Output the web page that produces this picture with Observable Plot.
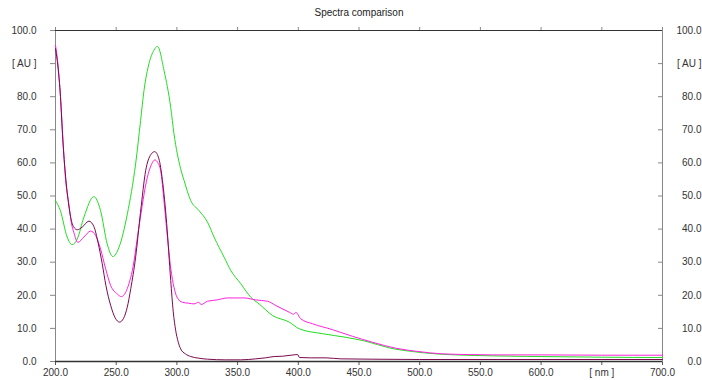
<!DOCTYPE html>
<html>
<head>
<meta charset="utf-8">
<script src="https://cdn.jsdelivr.net/npm/d3@7"></script>
<script src="https://cdn.jsdelivr.net/npm/@observablehq/plot@0.6"></script>
<style>
  html, body { margin: 0; padding: 0; background: #fff; }
</style>
</head>
<body>
<div id="chart"></div>
<script>
const title = "Spectra comparison";
const xDomain = [200, 700];
const yDomain = [0, 100];
const xTicks = [200, 250, 300, 350, 400, 450, 500, 550, 600, 650, 700];
const yTicks = [0, 10, 20, 30, 40, 50, 60, 70, 80, 90, 100];
const xUnitTick = 650, xUnitLabel = "[ nm ]";
const yUnitTick = 90, yUnitLabel = "[ AU ]";

const greenNm = [200,204,209.6,213.7,217.9,223.4,231.6,237.1,242.6,247.3,252.3,259.2,266,270.1,272.9,277,281,284,289.4,294.9,297.6,303.1,305.9,311.4,318.2,325.2,330.6,338.9,344.4,352.6,360.9,367.7,378.8,392.5,400.7,420,439.3,455.8,475,494.3,513.5,530,560,600,650,700];
const greenAU = [48.6,45.6,37.6,35.3,37,43.6,49.8,45.6,35.5,31.7,34.5,44.6,59.7,72.8,81.9,90,94,95.2,87.9,76.8,68.8,58.2,54.7,48.6,45.6,42.1,37.6,31.5,27.5,23.5,19.4,17.4,13.9,11.9,9.9,8.4,7.3,6.1,4.1,3.0,2.3,2.0,1.7,1.5,1.3,1.2];

const magentaNm = [200,202,204.1,206,208.3,211,213,215.1,218.4,223.4,228.9,233,237.1,241.3,245.4,250.9,254.2,257.8,260.5,263.3,268.7,275.7,279,281.9,284,286.6,289.5,292.2,295,297.6,300,304.5,310,314.1,318,320,325.2,333,341.7,355.4,365,374.7,381.5,392.5,396,398,402,411.8,428.3,444.8,461.3,480.5,497,519,540,560,600,650,700];
const magentaAU = [95.5,90,80,68,55,47.6,42,39,36,37.6,39.4,38.1,34,28,23,20.4,19.6,20.9,23.5,27.5,40.6,55.7,59.5,60.9,60.2,57.7,48,37.6,28,22.4,19.5,17.9,17.6,17.4,17.9,17.2,18.2,18.6,19.2,19.2,18.6,18.2,16.9,14.9,14.3,14.8,12.9,11.4,9.6,7.6,5.8,4.0,3.1,2.3,2.1,2.0,2.0,1.9,1.9];

const purpleNm = [200,202,204.1,206,208.3,211,213.8,215.1,217.9,222,227.5,231.6,235,238.5,241.5,245.4,249,252.8,256,259.1,262,266,270,274.3,278.5,281.7,285.2,288,291.6,294.9,297,299,301,303.1,307,311.4,318,325.2,340,352.6,365,373,380.1,387,394,399.4,401,410,422.8,435,460,500,600,700];
const purpleAU = [94.5,89,80,67,56,47,41.6,40.6,39.8,40.6,42.4,40.8,36,29.5,23,17,13.3,11.9,13,16.4,22,31.5,45,57.7,62.5,63.4,61.2,55,41.6,24.5,15,9.4,6,3.8,2.3,1.5,1.0,0.7,0.5,0.5,0.8,1.1,1.5,1.6,1.9,2.1,1.2,1.1,1.1,0.8,0.7,0.6,0.6,0.6];

const toRows = (nm, au) => nm.map((x, i) => ({nm: x, au: au[i]}));
const green = toRows(greenNm, greenAU);
const magenta = toRows(magentaNm, magentaAU);
const purple = toRows(purpleNm, purpleAU);

const fmtX = d => d === xUnitTick ? xUnitLabel : d.toFixed(1);
const fmtY = d => d === yUnitTick ? yUnitLabel : d.toFixed(1);

const chart = Plot.plot({
  width: 702,
  height: 380,
  marginLeft: 55,
  marginRight: 40,
  marginTop: 30,
  marginBottom: 19,
  style: {fontFamily: "'Liberation Sans', Arial, sans-serif", fontSize: "10px", background: "#fff", color: "#333", overflow: "visible"},
  x: {domain: xDomain, label: null},
  y: {domain: yDomain, label: null},
  marks: [
    Plot.axisX(xTicks, {anchor: "bottom", label: null, tickSize: 4, tickPadding: 3, tickFormat: fmtX, stroke: "#555", fill: "#333", fontSize: 10}),
    Plot.axisX(xTicks, {anchor: "top", label: null, tickSize: 4, tickFormat: () => "", stroke: "#888"}),
    Plot.axisY(yTicks, {anchor: "left", label: null, tickSize: 5, tickPadding: 14, tickFormat: fmtY, stroke: "#888", fill: "#333", fontSize: 10}),
    Plot.axisY(yTicks, {anchor: "right", label: null, tickSize: 0, tickPadding: 39, textAnchor: "end", tickFormat: fmtY, fill: "#333", fontSize: 10}),
    Plot.axisY(yTicks, {anchor: "right", label: null, tickSize: 5, dx: -5, tickFormat: () => "", stroke: "#888"}),
    Plot.ruleX(xDomain, {stroke: "#888", strokeWidth: 1}),
    Plot.ruleY([yDomain[1]], {stroke: "#333", strokeWidth: 1}),
    Plot.ruleY([yDomain[0]], {stroke: "#333", strokeWidth: 1.3}),
    Plot.line(green, {x: "nm", y: "au", stroke: "#22dd22", strokeWidth: 1, curve: "monotone-x"}),
    Plot.line(magenta, {x: "nm", y: "au", stroke: "#ff22dd", strokeWidth: 1, curve: "monotone-x"}),
    Plot.line(purple, {x: "nm", y: "au", stroke: "#7a0a4e", strokeWidth: 1, curve: "monotone-x"}),
    Plot.text([title], {frameAnchor: "top", dy: -18, lineAnchor: "middle", fontSize: 10, fill: "#222"})
  ]
});
document.getElementById("chart").appendChild(chart);
</script>
</body>
</html>
